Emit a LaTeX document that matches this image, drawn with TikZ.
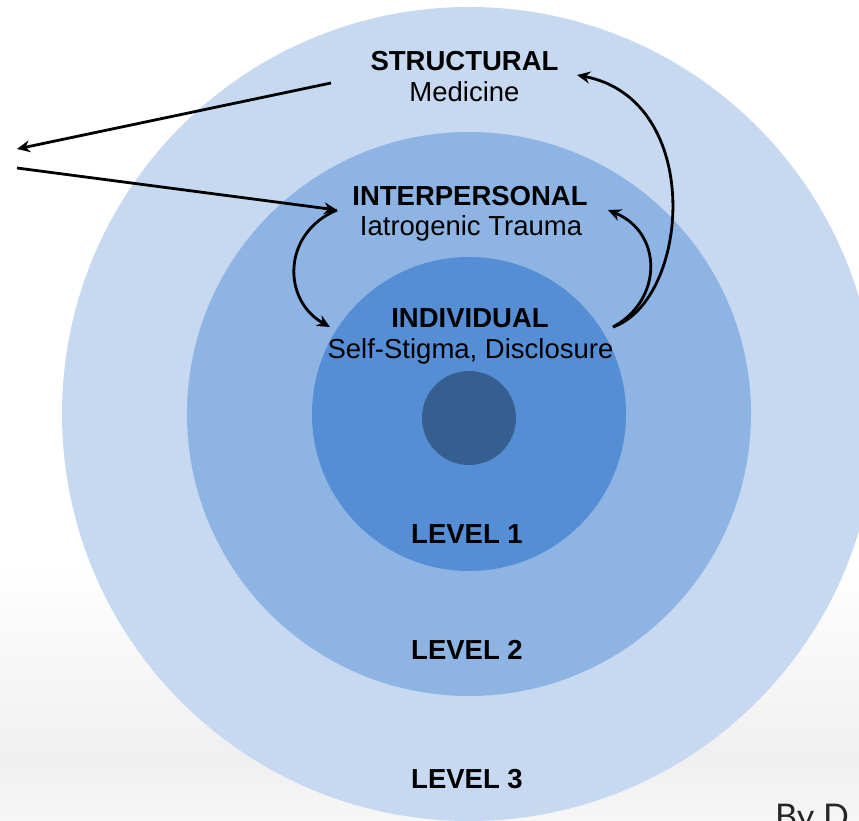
\documentclass[tikz,border=0pt]{standalone}
\usepackage{fontspec}
\setmainfont{Liberation Sans}
\newfontfamily\bylinefont{Lato}
\usetikzlibrary{arrows.meta}
\definecolor{ring3}{HTML}{C6D9F1}
\definecolor{ring2}{HTML}{8EB4E3}
\definecolor{ring1}{HTML}{558ED5}
\definecolor{core}{HTML}{365F91}
\tikzstyle{arrow} = [line width=2.8pt,->,>={Stealth[length=13pt,width=12pt]}]

\begin{document}
\begin{tikzpicture}[x=1pt,y=-1pt]
    \tikzstyle{ring}=[circle,draw=none,inner sep=0pt]
    \tikzstyle{title}=[font=\fontsize{27.5}{31}\selectfont\bfseries,anchor=base,inner sep=0pt]
    \tikzstyle{sub}=[font=\fontsize{27.5}{31}\selectfont,anchor=base,inner sep=0pt]

    \useasboundingbox (0,0) rectangle (859,821);
    \clip (0,0) rectangle (859,821);

    % Draw the background
    \shade[top color=white,bottom color=gray!12] (0,560) rectangle (859,760);
    \shade[top color=gray!12,bottom color=gray!7] (0,760) rectangle (859,821);

    % Draw the rings, outside in
    \foreach \name / \d / \col in {3/814/ring3,2/564/ring2,1/314/ring1}
        \node[ring,fill=\col,minimum size=\d pt] (L-\name) at (469,414) {};
    \node[ring,fill=core,minimum size=94pt] (L-0) at (469,418) {};

    % Draw the level texts
    \node[title] (S-t) at (464.5,71) {STRUCTURAL};
    \node[sub] (S-s) at (464.5,102) {Medicine};
    \node[title] (I-t) at (470,205) {INTERPERSONAL};
    \node[sub] (I-s) at (471,235) {Iatrogenic Trauma};
    \node[title] (D-t) at (470,327) {INDIVIDUAL};
    \node[sub] (D-s) at (470.5,358) {Self-Stigma, Disclosure};
    \foreach \n / \y in {1/543,2/659,3/788}
        \node[title] (Lv-\n) at (467,\y) {LEVEL \n};

    \node[anchor=base west,inner sep=0pt,text=black!85,
          font=\bylinefont\fontsize{34}{40}\selectfont] (by) at (775,828) {By D};

    % Ports for the arrows
    \coordinate (S-l) at (331,83);
    \coordinate (S-r) at (577,75);
    \coordinate (I-l) at (337,210);
    \coordinate (I-r) at (608,210);
    \coordinate (D-l) at (330,327);
    \coordinate (D-r) at (613,327);
    \coordinate (out-a) at (17,149);
    \coordinate (out-b) at (17,168);

    % Connect the levels
    \draw[arrow] (S-l) -- (out-a);
    \draw[arrow] (out-b) -- (I-l);
    \draw[arrow] (I-l) .. controls (282,233) and (282,300) .. (D-l);
    \draw[arrow] (D-r) .. controls (663,300) and (663,233) .. (I-r);
    \draw[arrow] (D-r) .. controls (690,300) and (705,100) .. (S-r);
\end{tikzpicture}
\end{document}
